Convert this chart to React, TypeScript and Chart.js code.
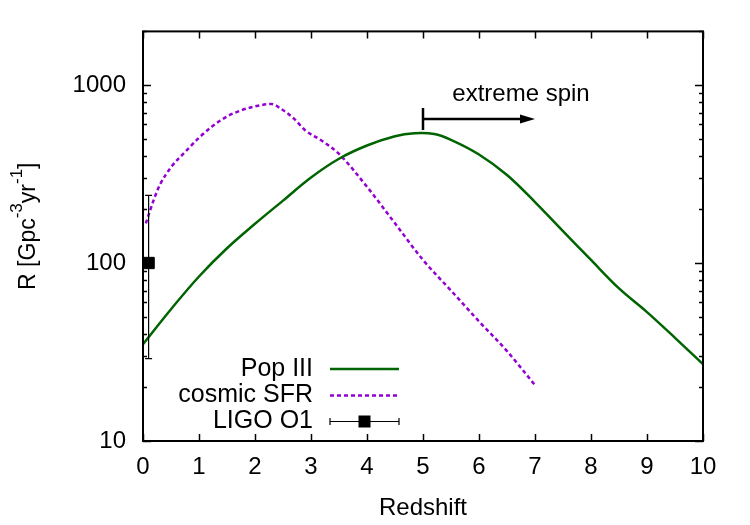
import React, { useEffect, useRef } from "react";
import { Chart, registerables } from "chart.js";

Chart.register(...registerables);

// Pop III merger rate vs redshift
const popIIIRedshift = [0, 0.5, 1, 1.5, 2, 2.5, 3, 3.5, 4, 4.5, 4.85, 5.2, 5.5, 6, 6.5, 7, 7.5, 8, 8.5, 9, 9.5, 10];
const popIIIRate = [35, 55, 84, 121, 166, 224, 302, 385, 457, 515, 535, 530, 492, 407, 312, 220, 151, 104, 72, 53, 38, 27];

// Rate following the cosmic star formation history
const sfrRedshift = [0.05, 0.2, 0.3, 0.5, 0.75, 1, 1.25, 1.5, 1.75, 2, 2.3, 2.45, 2.7, 2.9, 3.2, 3.5, 4, 4.5, 5, 5.5, 6, 6.5, 7];
const sfrRate = [167, 230, 274, 345, 420, 505, 590, 665, 720, 758, 782, 740, 645, 555, 485, 410, 268, 167, 104, 70, 47, 32, 20.6];

// LIGO O1 measurement with its error bar
const ligoRedshift = [0.1];
const ligoRate = [100];
const ligoLow = [29];
const ligoHigh = [240];

// Axis ticks
const xTickValues = [0, 1, 2, 3, 4, 5, 6, 7, 8, 9, 10];
const yMajorTicks = [10, 100, 1000];
const yMinorTicks = [20, 30, 40, 50, 60, 70, 80, 90, 200, 300, 400, 500, 600, 700, 800, 900, 2000];

// "extreme spin" arrow: starts at z = 5, points to z = 7
const spinFrom = 5;
const spinTo = 7;
const spinRate = 644;
const spinBarLow = 558;
const spinBarHigh = 743;
const spinLabel = "extreme spin";
const spinLabelZ = 6.75;
const spinLabelRate = 890;

const legendLabels = ["Pop III", "cosmic SFR", "LIGO O1"];

const FONT = "'Liberation Sans', Arial, Helvetica, sans-serif";
const GREEN = "#006400";
const VIOLET = "#9400d3";

const decorations = {
  id: "gnuplotDecor",
  afterDraw(chart: any) {
    const { ctx, chartArea } = chart;
    const { left, right, top, bottom } = chartArea;
    const xs = chart.scales.x;
    const ys = chart.scales.y;
    ctx.save();
    ctx.strokeStyle = "#000";
    ctx.fillStyle = "#000";
    ctx.lineCap = "butt";

    // frame
    ctx.lineWidth = 2;
    ctx.strokeRect(left, top, right - left, bottom - top);

    // inward ticks, mirrored on all sides
    ctx.lineWidth = 1.5;
    ctx.beginPath();
    xTickValues.forEach((v) => {
      const px = Math.round(xs.getPixelForValue(v)) + 0.5;
      ctx.moveTo(px, bottom);
      ctx.lineTo(px, bottom - 7);
      ctx.moveTo(px, top);
      ctx.lineTo(px, top + 7);
    });
    yMajorTicks.forEach((v) => {
      const py = Math.round(ys.getPixelForValue(v)) + 0.5;
      ctx.moveTo(left, py);
      ctx.lineTo(left + 8, py);
      ctx.moveTo(right, py);
      ctx.lineTo(right - 8, py);
    });
    yMinorTicks.forEach((v) => {
      const py = Math.round(ys.getPixelForValue(v)) + 0.5;
      ctx.moveTo(left, py);
      ctx.lineTo(left + 4, py);
      ctx.moveTo(right, py);
      ctx.lineTo(right - 4, py);
    });
    ctx.stroke();

    // LIGO error bar
    ctx.lineWidth = 1.2;
    ligoRedshift.forEach((z, i) => {
      const px = xs.getPixelForValue(z);
      const pLo = ys.getPixelForValue(ligoLow[i]);
      const pHi = ys.getPixelForValue(ligoHigh[i]);
      ctx.beginPath();
      ctx.moveTo(px, pLo);
      ctx.lineTo(px, pHi);
      ctx.moveTo(px - 3.5, pLo);
      ctx.lineTo(px + 3.5, pLo);
      ctx.moveTo(px - 3.5, pHi);
      ctx.lineTo(px + 3.5, pHi);
      ctx.stroke();
    });

    // extreme spin arrow
    const ax0 = xs.getPixelForValue(spinFrom);
    const ax1 = xs.getPixelForValue(spinTo);
    const ay = ys.getPixelForValue(spinRate);
    ctx.lineWidth = 2.5;
    ctx.beginPath();
    ctx.moveTo(ax0, ys.getPixelForValue(spinBarLow));
    ctx.lineTo(ax0, ys.getPixelForValue(spinBarHigh));
    ctx.moveTo(ax0, ay);
    ctx.lineTo(ax1 - 12, ay);
    ctx.stroke();
    ctx.beginPath();
    ctx.moveTo(ax1, ay);
    ctx.lineTo(ax1 - 15, ay - 4.5);
    ctx.lineTo(ax1 - 15, ay + 4.5);
    ctx.closePath();
    ctx.fill();

    ctx.font = `24px ${FONT}`;
    ctx.textAlign = "center";
    ctx.textBaseline = "middle";
    ctx.fillText(spinLabel, xs.getPixelForValue(spinLabelZ), ys.getPixelForValue(spinLabelRate));

    // key
    const keyTextRight = left + 170;
    const sampleL = left + 187;
    const sampleR = left + 256;
    const rowY = [bottom - 72, bottom - 45.5, bottom - 19.5];
    ctx.font = `25px ${FONT}`;
    ctx.textAlign = "right";
    legendLabels.forEach((t, i) => ctx.fillText(t, keyTextRight, rowY[i]));

    ctx.lineWidth = 2.5;
    ctx.strokeStyle = GREEN;
    ctx.beginPath();
    ctx.moveTo(sampleL, rowY[0]);
    ctx.lineTo(sampleR, rowY[0]);
    ctx.stroke();

    ctx.strokeStyle = VIOLET;
    ctx.setLineDash([4, 3]);
    ctx.beginPath();
    ctx.moveTo(sampleL, rowY[1]);
    ctx.lineTo(sampleR, rowY[1]);
    ctx.stroke();
    ctx.setLineDash([]);

    ctx.strokeStyle = "#000";
    ctx.lineWidth = 1.2;
    ctx.beginPath();
    ctx.moveTo(sampleL, rowY[2]);
    ctx.lineTo(sampleR, rowY[2]);
    ctx.moveTo(sampleL, rowY[2] - 3.5);
    ctx.lineTo(sampleL, rowY[2] + 3.5);
    ctx.moveTo(sampleR, rowY[2] - 3.5);
    ctx.lineTo(sampleR, rowY[2] + 3.5);
    ctx.stroke();
    const mid = (sampleL + sampleR) / 2;
    ctx.fillRect(mid - 6, rowY[2] - 6, 12, 12);

    // axis titles
    ctx.font = `24px ${FONT}`;
    ctx.textAlign = "center";
    ctx.textBaseline = "alphabetic";
    ctx.fillText("Redshift", (left + right) / 2, bottom + 74);

    const parts: [string, boolean][] = [
      ["R [Gpc", false],
      ["-3", true],
      ["yr", false],
      ["-1", true],
      ["]", false],
    ];
    const big = `23px ${FONT}`;
    const small = `17px ${FONT}`;
    let total = 0;
    parts.forEach(([t, sup]) => {
      ctx.font = sup ? small : big;
      total += ctx.measureText(t).width;
    });
    ctx.translate(35, (top + bottom) / 2 - 10);
    ctx.rotate(-Math.PI / 2);
    ctx.textAlign = "left";
    let cx = -total / 2;
    parts.forEach(([t, sup]) => {
      ctx.font = sup ? small : big;
      ctx.fillText(t, cx, sup ? -13 : 0);
      cx += ctx.measureText(t).width;
    });

    ctx.restore();
  },
};

export default function App() {
  const canvasRef = useRef<HTMLCanvasElement | null>(null);

  useEffect(() => {
    if (!canvasRef.current) return;
    const chart = new Chart(canvasRef.current, {
      type: "line",
      data: {
        datasets: [
          {
            label: "Pop III",
            data: popIIIRedshift.map((x, i) => ({ x, y: popIIIRate[i] })),
            borderColor: GREEN,
            borderWidth: 2.5,
            pointRadius: 0,
            tension: 0.35,
            fill: false,
          },
          {
            label: "cosmic SFR",
            data: sfrRedshift.map((x, i) => ({ x, y: sfrRate[i] })),
            borderColor: VIOLET,
            borderWidth: 2.5,
            borderDash: [4, 3],
            pointRadius: 0,
            cubicInterpolationMode: "monotone",
            fill: false,
          },
          {
            type: "scatter",
            label: "LIGO O1",
            data: ligoRedshift.map((x, i) => ({ x, y: ligoRate[i] })),
            pointStyle: "rect",
            pointRadius: 8,
            borderWidth: 1,
            backgroundColor: "#000",
            borderColor: "#000",
            showLine: false,
          } as any,
        ],
      },
      options: {
        animation: false,
        responsive: false,
        devicePixelRatio: 1,
        events: [],
        layout: { padding: { top: 31, right: 47, left: 0, bottom: 0 } },
        plugins: {
          legend: { display: false },
          tooltip: { enabled: false },
        },
        scales: {
          x: {
            type: "linear",
            min: 0,
            max: 10,
            grid: { display: false, drawTicks: false },
            border: { display: false },
            ticks: {
              stepSize: 1,
              color: "#000",
              font: { family: FONT, size: 24 },
              padding: 12,
              maxRotation: 0,
            },
            afterFit: (s: any) => {
              s.height = 84;
            },
          },
          y: {
            type: "logarithmic",
            min: 10,
            max: 2000,
            grid: { display: false, drawTicks: false },
            border: { display: false },
            afterBuildTicks: (s: any) => {
              s.ticks = yMajorTicks.map((v) => ({ value: v }));
            },
            ticks: {
              color: "#000",
              font: { family: FONT, size: 24 },
              padding: 17,
              callback: (v: any) => String(v),
            },
            afterFit: (s: any) => {
              s.width = 143;
            },
          },
        },
      },
      plugins: [decorations],
    });
    return () => chart.destroy();
  }, []);

  return (
    <div style={{ position: "fixed", left: 0, top: 0, width: 750, height: 525, background: "#fff" }}>
      <canvas ref={canvasRef} width={750} height={525} style={{ display: "block" }} />
    </div>
  );
}
